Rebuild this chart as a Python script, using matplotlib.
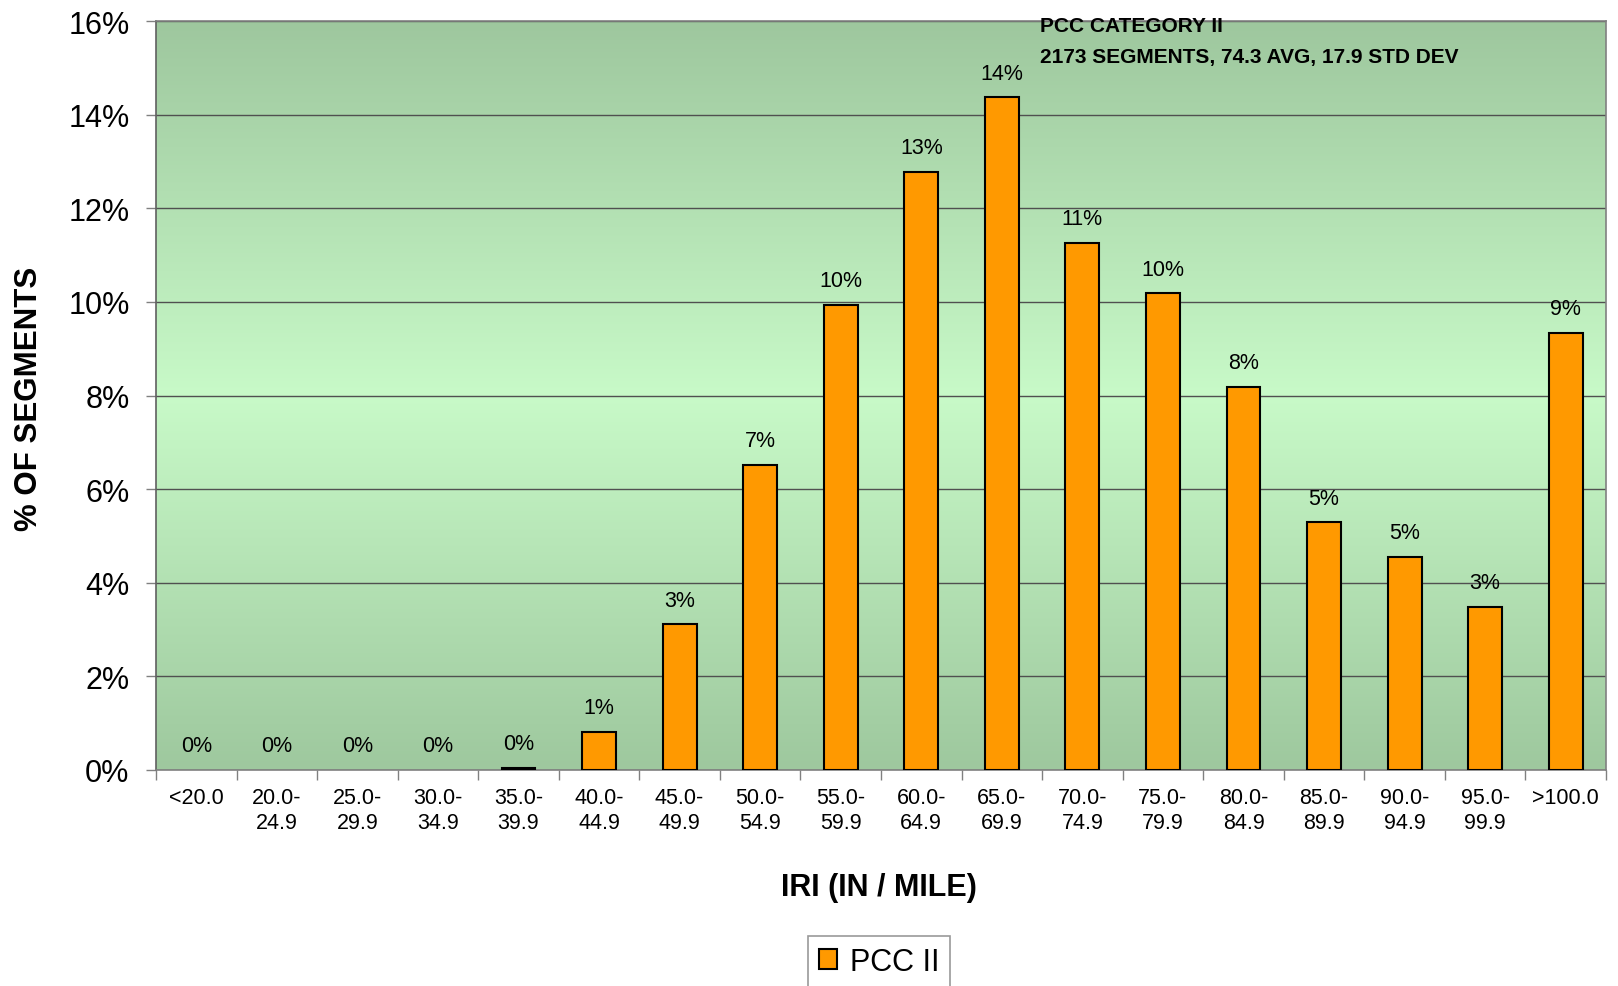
import numpy as np
import matplotlib
matplotlib.use("Agg")
import matplotlib.pyplot as plt
from matplotlib.ticker import PercentFormatter, FixedLocator
from matplotlib.colors import LinearSegmentedColormap
from matplotlib.patches import Patch

plt.rcParams['font.family'] = ['Liberation Sans', 'DejaVu Sans']

# IRI bins and share of segments in each bin
categories = ['<20.0', '20.0-\n24.9', '25.0-\n29.9', '30.0-\n34.9', '35.0-\n39.9',
              '40.0-\n44.9', '45.0-\n49.9', '50.0-\n54.9', '55.0-\n59.9', '60.0-\n64.9',
              '65.0-\n69.9', '70.0-\n74.9', '75.0-\n79.9', '80.0-\n84.9', '85.0-\n89.9',
              '90.0-\n94.9', '95.0-\n99.9', '>100.0']
pcc_ii = [0.0, 0.0, 0.0, 0.0, 0.0005, 0.0082, 0.0311, 0.0652, 0.0994, 0.1278,
          0.1437, 0.1126, 0.1018, 0.0818, 0.0529, 0.0456, 0.0348, 0.0934]
series_name = 'PCC II'
title_lines = ['PCC CATEGORY II', '2173 SEGMENTS, 74.3 AVG, 17.9 STD DEV']

bar_color = '#ff9900'

W, H = 1618, 987
fig = plt.figure(figsize=(W / 100, H / 100), dpi=100)
ax = fig.add_axes([156 / W, 1 - 771 / H, 1450 / W, 749 / H])

x = np.arange(len(categories))
ymax = 0.16

# green background, darker at top and bottom, lightest in the middle
cmap = LinearSegmentedColormap.from_list('bg', ['#9ec79e', '#c8fac8', '#9ec89e'])
grad = np.linspace(0, 1, 256).reshape(-1, 1)
ax.imshow(grad, extent=[-0.5, len(categories) - 0.5, 0, ymax], aspect='auto',
          cmap=cmap, origin='upper', zorder=0, interpolation='bicubic')

# empty bins get no outline
edge_widths = [1.5 if v > 0 else 0 for v in pcc_ii]
ax.bar(x, pcc_ii, width=0.42, color=bar_color, edgecolor='black', linewidth=edge_widths,
       zorder=3)

for xi, v in zip(x, pcc_ii):
    ax.annotate(f'{v:.0%}', (xi, v), xytext=(0, 13.5), textcoords='offset points',
                ha='center', va='baseline', fontsize=15.5, zorder=4)

ax.set_xlim(-0.5, len(categories) - 0.5)
ax.set_ylim(0, ymax)
ax.set_yticks(np.arange(0, ymax + 0.001, 0.02))
ax.yaxis.set_major_formatter(PercentFormatter(1.0, decimals=0))
ax.yaxis.grid(True, color='#505050', linewidth=1.0, zorder=1)
ax.set_axisbelow(True)

ax.set_xticks(x)
ax.set_xticklabels(categories, fontsize=15.5, linespacing=1.3)
ax.xaxis.set_minor_locator(FixedLocator(np.arange(-0.5, len(categories), 1.0)))
ax.tick_params(axis='x', which='major', length=0, pad=12)
ax.tick_params(axis='x', which='minor', length=7, color='#808080', width=1)
ax.tick_params(axis='y', length=7, color='#808080', width=1, labelsize=22, pad=12)

for side in ['top', 'right', 'bottom']:
    ax.spines[side].set_color('#808080')
    ax.spines[side].set_linewidth(1.2)
ax.spines['left'].set_color('#606060')
ax.spines['left'].set_linewidth(1.2)

fig.text(29 / W, 1 - 399 / H, '% OF SEGMENTS', rotation=90, ha='center', va='center',
         fontsize=22.5, fontweight='bold')
fig.text(879 / W, 1 - 896 / H, 'IRI (IN / MILE)', ha='center', va='baseline',
         fontsize=22, fontweight='bold')

fig.text(1040 / W, 1 - 32 / H, title_lines[0], ha='left', va='baseline',
         fontsize=15, fontweight='bold')
fig.text(1040 / W, 1 - 63 / H, title_lines[1], ha='left', va='baseline',
         fontsize=15, fontweight='bold')

handle = Patch(facecolor=bar_color, edgecolor='black', linewidth=1.5)
leg = fig.legend([handle], [series_name], loc='upper center',
                 bbox_to_anchor=(879 / W, 1 - 937 / H),
                 fontsize=22, frameon=True, fancybox=False, edgecolor='#808080',
                 handlelength=0.6, handleheight=0.6, handletextpad=0.4,
                 borderpad=0.35, borderaxespad=0)
leg.get_frame().set_linewidth(1.2)

fig.savefig('out.png', dpi=100)
